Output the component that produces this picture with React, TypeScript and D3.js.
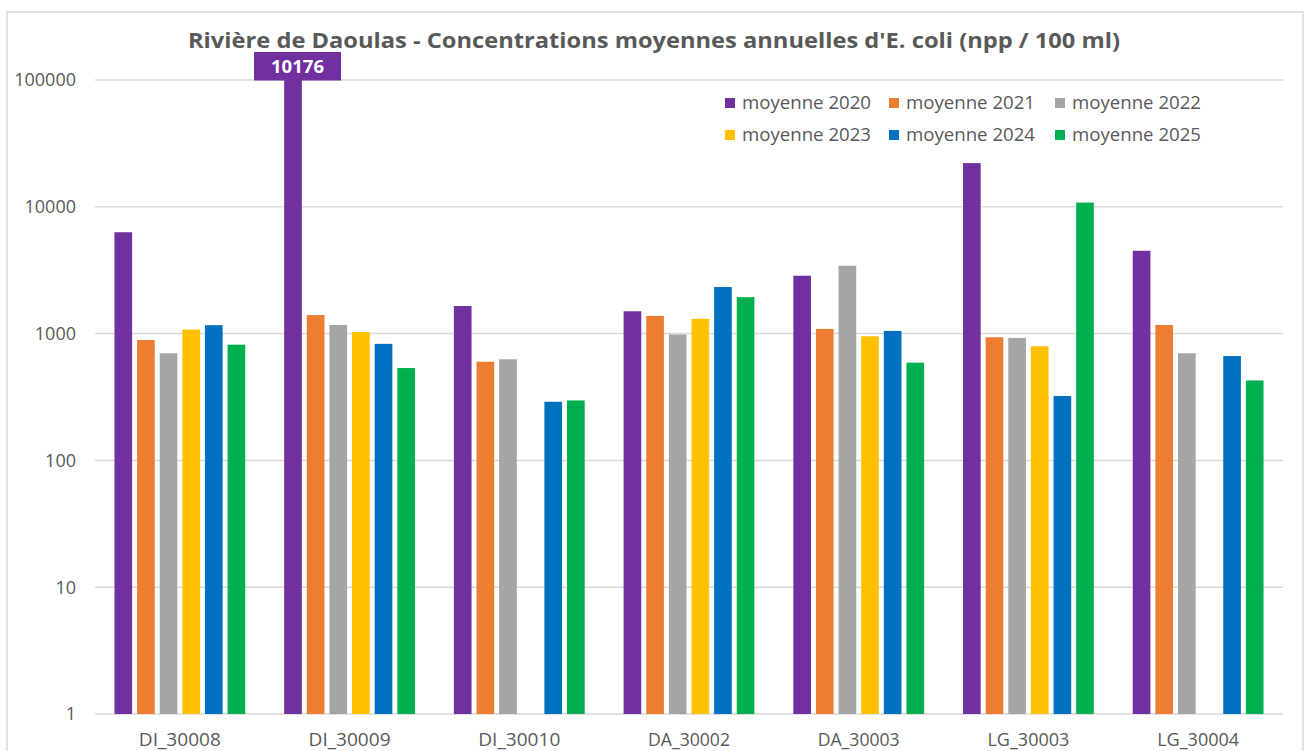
import React from "react";
import * as d3 from "d3";

const categories = ["DI_30008", "DI_30009", "DI_30010", "DA_30002", "DA_30003", "LG_30003", "LG_30004"];
const seriesNames = ["moyenne 2020", "moyenne 2021", "moyenne 2022", "moyenne 2023", "moyenne 2024", "moyenne 2025"];
const colors = ["#7030a0", "#ed7d31", "#a5a5a5", "#ffc000", "#0070c0", "#00b050"];

// one array per year, one value per station (null = no data)
const moy2020 = [6300, 101760, 1650, 1500, 2860, 22100, 4500];
const moy2021 = [890, 1400, 600, 1380, 1090, 936, 1170];
const moy2022 = [700, 1170, 627, 985, 3430, 925, 700];
const moy2023 = [1076, 1030, null, 1307, 953, 795, null];
const moy2024 = [1165, 830, 290, 2330, 1050, 322, 665];
const moy2025 = [818, 535, 297, 1940, 590, 10800, 427];
const yearValues = [moy2020, moy2021, moy2022, moy2023, moy2024, moy2025];

const yTicks = [1, 10, 100, 1000, 10000, 100000];
const labelText = "10176";

const W = 1306;
const H = 751;
const left = 95;
const right = 1283;
const top = 80;
const bottom = 714;

export default function App() {
  const x0 = d3.scaleBand<string>().domain(categories).range([left, right]).paddingInner(0.2).paddingOuter(0.1);
  const x1 = d3.scaleBand<string>().domain(seriesNames).range([0, x0.bandwidth()]).paddingInner(0.22).paddingOuter(0.11);
  const y = d3.scaleLog().domain([1, 100000]).range([bottom, top]).clamp(true);

  const font = "'Open Sans', 'Noto Sans', sans-serif";
  const textColor = "#595959";

  const bars: JSX.Element[] = [];
  categories.forEach((c, ci) => {
    seriesNames.forEach((s, si) => {
      const v = yearValues[si][ci];
      if (v == null) return;
      const yy = y(v);
      bars.push(
        <rect key={c + s} x={(x0(c) ?? 0) + (x1(s) ?? 0)} y={yy} width={x1.bandwidth()} height={bottom - yy} fill={colors[si]} />
      );
    });
  });

  // data label for the bar going past the axis max
  const lx = (x0("DI_30009") ?? 0) + (x1("moyenne 2020") ?? 0) + x1.bandwidth() / 2 + 4.5;

  return (
    <svg width={W} height={H} style={{ position: "absolute", left: 0, top: 0, fontFamily: font }}>
      <rect x={7} y={12} width={1296} height={760} fill="#fff" stroke="#d9d9d9" strokeWidth={1.5} />
      <text x={654} y={48} textAnchor="middle" fontSize={21} fontWeight="bold" fill={textColor} textLength={932} lengthAdjust="spacingAndGlyphs">
        Rivière de Daoulas - Concentrations moyennes annuelles d'E. coli (npp / 100 ml)
      </text>
      {yTicks.map((t) => (
        <g key={t}>
          <line x1={left} x2={right} y1={y(t)} y2={y(t)} stroke="#d9d9d9" strokeWidth={1.5} />
          <text x={76} y={y(t)} dy="0.35em" textAnchor="end" fontSize={18} fill={textColor}>
            {t}
          </text>
        </g>
      ))}
      {bars}
      <rect x={lx - 43.5} y={52} width={87} height={28.5} fill={colors[0]} />
      <text x={lx} y={66.5} dy="0.36em" textAnchor="middle" fontSize={17} fontWeight="bold" fill="#fff" textLength={53} lengthAdjust="spacingAndGlyphs">
        {labelText}
      </text>
      {categories.map((c) => (
        <text key={c} x={(x0(c) ?? 0) + x0.bandwidth() / 2} y={740} dy="0.35em" textAnchor="middle" fontSize={18} fill={textColor} textLength={82} lengthAdjust="spacingAndGlyphs">
          {c}
        </text>
      ))}
      {seriesNames.map((s, i) => {
        const col = i % 3;
        const row = Math.floor(i / 3);
        const lxs = [725, 889, 1055][col];
        const ly = 103 + row * 32;
        return (
          <g key={s}>
            <rect x={lxs} y={ly - 5} width={10} height={10} fill={colors[i]} />
            <text x={lxs + 17} y={ly} dy="0.35em" fontSize={17.5} fill={textColor} textLength={129} lengthAdjust="spacingAndGlyphs">
              {s}
            </text>
          </g>
        );
      })}
    </svg>
  );
}
